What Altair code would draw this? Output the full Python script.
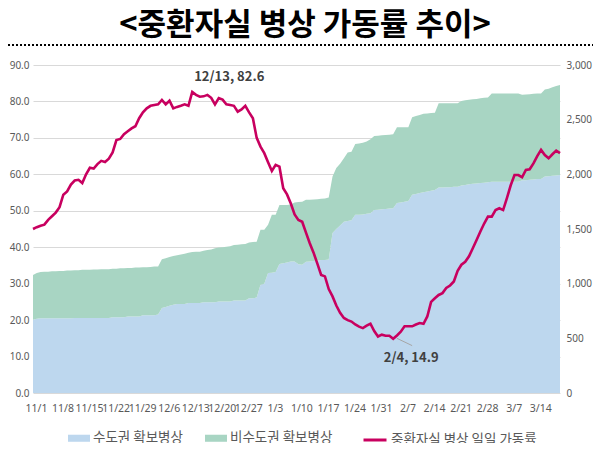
import altair as alt
import pandas as pd

# ---- data ----
start_date = "2021-11-01"

rate = [
    45.0, 45.5, 45.9, 46.2, 47.5, 48.5, 49.5, 51.0, 54.4, 55.3,
    57.2, 58.3, 58.5, 57.6, 60.0, 61.8, 61.6, 62.8, 63.7, 63.4,
    64.3, 66.0, 69.4, 69.7, 71.0, 71.8, 72.6, 73.2, 75.4, 77.0,
    78.1, 78.8, 79.0, 79.2, 80.4, 79.2, 80.2, 78.1, 78.5, 78.8,
    79.2, 78.8, 82.6, 81.8, 81.3, 81.4, 81.8, 81.0, 79.2, 80.9,
    80.5, 79.2, 79.0, 78.8, 77.2, 77.8, 78.8, 77.0, 75.4, 70.0,
    67.6, 65.8, 63.3, 60.9, 62.6, 62.1, 56.2, 54.5, 52.0, 49.0,
    47.5, 47.0, 44.0, 41.1, 38.5, 35.5, 32.4, 32.0, 28.5, 26.5,
    24.0, 22.0, 20.6, 20.0, 19.6, 18.8, 18.2, 17.8, 18.5, 19.0,
    17.0, 15.5, 16.0, 15.7, 15.7, 14.9, 15.8, 16.8, 18.3, 18.3,
    18.3, 18.8, 19.2, 19.0, 21.0, 25.0, 26.0, 26.9, 27.4, 28.8,
    29.5, 30.6, 33.5, 35.2, 36.0, 37.5, 39.7, 42.0, 44.3, 46.5,
    48.4, 48.4, 50.2, 50.7, 50.2, 53.5, 57.0, 59.8, 59.8, 59.2,
    61.2, 61.4, 63.0, 65.0, 66.7, 65.3, 64.4, 65.5, 66.5, 65.8,
]

capital_beds = [
    670, 680, 683, 683, 683, 683, 683, 683, 683, 683,
    683, 687, 687, 687, 687, 687, 687, 687, 687, 687,
    687, 693, 693, 693, 693, 700, 700, 700, 700, 710,
    710, 710, 710, 717, 777, 787, 797, 807, 813, 813,
    813, 823, 823, 823, 823, 830, 830, 830, 830, 837,
    837, 837, 837, 847, 847, 847, 847, 867, 867, 873,
    990, 1000, 1097, 1100, 1107, 1180, 1187, 1193, 1203, 1203,
    1177, 1173, 1200, 1203, 1207, 1213, 1217, 1217, 1220, 1463,
    1500, 1533, 1567, 1573, 1580, 1630, 1630, 1633, 1640, 1643,
    1673, 1677, 1680, 1683, 1687, 1690, 1737, 1743, 1750, 1757,
    1813, 1820, 1830, 1837, 1843, 1850, 1857, 1880, 1880, 1883,
    1883, 1887, 1887, 1897, 1903, 1910, 1913, 1917, 1920, 1923,
    1927, 1933, 1933, 1933, 1933, 1933, 1933, 1933, 1933, 1947,
    1947, 1950, 1953, 1957, 1957, 1980, 1983, 1987, 1990, 1993,
]

noncapital_beds = [
    410, 417, 424, 427, 427, 430, 430, 434, 434, 437,
    437, 436, 436, 440, 440, 440, 443, 443, 446, 446,
    446, 444, 444, 447, 447, 443, 443, 447, 447, 440,
    440, 443, 447, 440, 446, 446, 446, 446, 447, 454,
    460, 460, 467, 470, 470, 470, 477, 483, 493, 493,
    496, 500, 506, 506, 510, 513, 516, 510, 513, 510,
    503, 493, 443, 530, 523, 540, 533, 527, 520, 540,
    570, 577, 567, 564, 563, 560, 560, 563, 567, 517,
    557, 564, 580, 627, 627, 647, 653, 657, 660, 677,
    677, 676, 677, 677, 676, 677, 693, 687, 680, 673,
    710, 713, 713, 716, 714, 710, 706, 770, 770, 767,
    767, 763, 763, 773, 774, 773, 774, 773, 777, 777,
    776, 807, 807, 807, 807, 807, 807, 807, 807, 780,
    783, 783, 784, 783, 783, 797, 800, 810, 817, 824,
]

tick_dates = [
    (2021, 11, 1), (2021, 11, 8), (2021, 11, 15), (2021, 11, 22), (2021, 11, 29),
    (2021, 12, 6), (2021, 12, 13), (2021, 12, 20), (2021, 12, 27), (2022, 1, 3),
    (2022, 1, 10), (2022, 1, 17), (2022, 1, 24), (2022, 1, 31), (2022, 2, 7),
    (2022, 2, 14), (2022, 2, 21), (2022, 2, 28), (2022, 3, 7), (2022, 3, 14),
]

region_names = ["수도권 확보병상", "비수도권 확보병상"]
region_colors = ["#BDD7EE", "#A8D5C3"]
line_name = "중환자실 병상 일일 가동률"
line_color = "#C8005F"
title_text = "<중환자실 병상 가동률 추이>"

peak_label = ("2021-12-13", 82.6, "12/13, 82.6")
low_label = ("2022-02-04", 14.9, "2/4, 14.9")
leader = ("2022-02-05", 15.0, "2022-02-09", 13.0)

# ---- tables ----
dates = pd.date_range(start_date, periods=len(rate), freq="D")
df_line = pd.DataFrame({"date": dates, "rate": rate, "name": line_name})
df_area = pd.concat([
    pd.DataFrame({"date": dates, "beds": capital_beds, "region": region_names[0], "ord": 0}),
    pd.DataFrame({"date": dates, "beds": noncapital_beds, "region": region_names[1], "ord": 1}),
], ignore_index=True)

FONT = "Noto Sans CJK KR"
NUMFONT = "Noto Sans"
GRAY = "#595959"

x_enc = alt.X(
    "date:T",
    scale=alt.Scale(domain=[alt.DateTime(year=2021, month=11, date=1),
                            alt.DateTime(year=2022, month=3, date=20)], nice=False),
    axis=alt.Axis(
        values=[alt.DateTime(year=y, month=m, date=d) for (y, m, d) in tick_dates],
        format="%-m/%-d", title=None, grid=False, domain=False, ticks=False,
        labelPadding=10, tickOffset=3, labelColor=GRAY, labelFont=NUMFONT, labelFontSize=10.5,
        labelOverlap=False, labelFlush=False,
    ),
)

y_rate = alt.Y(
    "rate:Q",
    scale=alt.Scale(domain=[0, 90], nice=False),
    axis=alt.Axis(
        orient="left", values=list(range(0, 91, 10)), format=".1f", title=None,
        grid=True, gridColor="#D9D9D9", domain=False, ticks=False, labelPadding=4,
        labelColor=GRAY, labelFont=NUMFONT, labelFontSize=10,
    ),
)

area = alt.Chart(df_area).mark_area(opacity=1).encode(
    x=x_enc,
    y=alt.Y(
        "beds:Q", stack="zero",
        scale=alt.Scale(domain=[0, 3000], nice=False),
        axis=alt.Axis(
            orient="right", values=list(range(0, 3001, 500)), format=",.0f", title=None,
            grid=False, domain=False, ticks=False, labelPadding=6,
            labelColor=GRAY, labelFont=NUMFONT, labelFontSize=10,
        ),
    ),
    color=alt.Color(
        "region:N",
        scale=alt.Scale(domain=region_names, range=region_colors),
        legend=alt.Legend(
            orient="none", legendX=35, legendY=362, direction="horizontal", title=None,
            symbolType="M-1,-0.32H1V0.32H-1Z", symbolSize=484, symbolStrokeWidth=0,
            labelFont=FONT, labelFontSize=13.5, labelColor=GRAY, labelOffset=3,
            labelLimit=0, columnPadding=22,
        ),
    ),
    order=alt.Order("ord:Q"),
)

line = alt.Chart(df_line).mark_line(strokeWidth=2.6).encode(
    x=x_enc,
    y=y_rate,
    stroke=alt.Stroke(
        "name:N",
        scale=alt.Scale(domain=[line_name], range=[line_color]),
        legend=alt.Legend(
            orient="none", legendX=329, legendY=362, direction="horizontal", title=None,
            symbolType="stroke", symbolSize=529, symbolStrokeWidth=3,
            labelFont=FONT, labelFontSize=13.5, labelColor=GRAY, labelOffset=3,
            labelLimit=0,
        ),
    ),
)

df_peak = pd.DataFrame({"date": [pd.Timestamp(peak_label[0])], "rate": [peak_label[1]], "label": [peak_label[2]]})
df_low = pd.DataFrame({"date": [pd.Timestamp(low_label[0])], "rate": [low_label[1]], "label": [low_label[2]]})
df_leader = pd.DataFrame({"date": [pd.Timestamp(leader[0])], "rate": [leader[1]],
                          "date2": [pd.Timestamp(leader[2])], "rate2": [leader[3]]})

ann_peak = alt.Chart(df_peak).mark_text(
    dx=37, dy=-15, font=FONT, fontSize=13, fontWeight="bold", color="#404040", baseline="middle"
).encode(x=x_enc, y=y_rate, text="label:N")

ann_low = alt.Chart(df_low).mark_text(
    dx=18, dy=19, font=FONT, fontSize=13, fontWeight="bold", color="#404040", baseline="middle"
).encode(x=x_enc, y=y_rate, text="label:N")

lead = alt.Chart(df_leader).mark_rule(color="#A6A6A6", strokeWidth=1).encode(
    x=x_enc, y=y_rate, x2="date2:T", y2="rate2:Q"
)

rate_layer = alt.layer(line, lead, ann_peak, ann_low)

df_title = pd.DataFrame({"t": [title_text]})
title_mark = alt.Chart(df_title).mark_text(
    font=FONT, fontSize=31, fontWeight="bold", color="#000000", align="center", baseline="middle"
).encode(text="t:N", x=alt.value(272), y=alt.value(-39))

sep = alt.Chart(df_title).mark_rule(color="#000000", strokeWidth=2, strokeDash=[2, 2]).encode(
    x=alt.value(-25), x2=alt.value(560), y=alt.value(-20)
)

chart = alt.layer(area, rate_layer, sep, title_mark).resolve_scale(
    y="independent"
).properties(
    width=527, height=328,
    autosize=alt.AutoSizeParams(type="none"),
    padding={"left": 25, "top": 57, "right": 33, "bottom": 50},
).configure_view(stroke=None)

chart.save("out.html", embed_options={"renderer": "svg", "actions": False})
